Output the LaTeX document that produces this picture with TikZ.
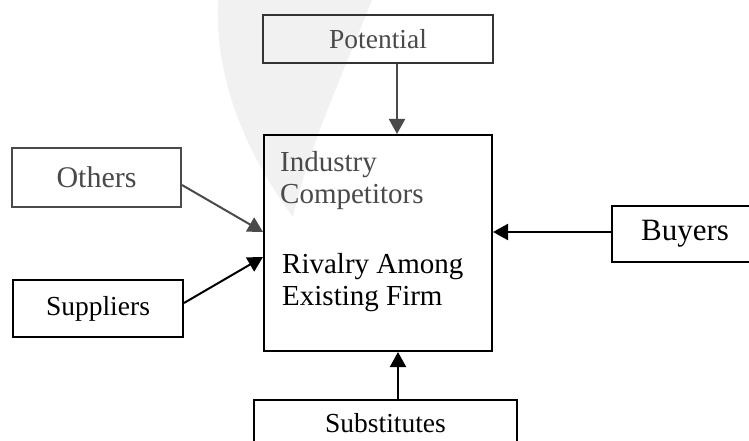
\documentclass[tikz,border=0pt]{standalone}
\usepackage{fontspec}
\setmainfont{Liberation Serif}
\usetikzlibrary{arrows.meta}
\definecolor{txtgray}{HTML}{4A4A4A}
\definecolor{wmark}{HTML}{F1F1F1}
\tikzset{
  box/.style={draw=black, line width=2pt, inner sep=0pt, anchor=center},
  graybox/.style={box, draw=txtgray, text=txtgray},
  arr/.style={line width=2pt, -{Triangle[length=15pt,width=16pt]}},
  grayarr/.style={arr, draw=txtgray, fill=txtgray},
  lbl/.style={inner sep=0pt, anchor=base west, font=\fontsize{29}{32}\selectfont}
}
\begin{document}
\begin{tikzpicture}[x=1pt,y=-1pt]
\useasboundingbox (0,0) rectangle (749,441);
\clip (0,0) rectangle (749,441);
\fill[white] (0,0) rectangle (749,441);
% faint watermark
\fill[wmark] (218,0) .. controls (214,90) and (255,165) .. (293,217)
  .. controls (308,150) and (340,80) .. (372,0) -- cycle;
% boxes
\node[box, graybox, draw=black!80, minimum width=230pt, minimum height=48pt,
  font=\fontsize{27.5}{30}\selectfont] (pot) at (378,39) {Potential};
\node[box, minimum width=228pt, minimum height=216pt] (main) at (378,243) {};
\node[box, graybox, minimum width=169pt, minimum height=59pt,
  font=\fontsize{30}{32}\selectfont] (oth) at (96.5,177.5) {Others};
\node[box, minimum width=170pt, minimum height=57pt,
  font=\fontsize{27.5}{30}\selectfont] (sup) at (98,308.5) {Suppliers};
\node[box, minimum width=146pt, minimum height=56pt,
  font=\fontsize{31}{33}\selectfont] (buy) at (685,234) {Buyers};
\node[box, minimum width=263pt, minimum height=46pt,
  font=\fontsize{27.5}{30}\selectfont] (subs) at (385.5,423) {Substitutes};
% text inside main box
\node[lbl, text=txtgray] (t1) at (280,171) {Industry};
\node[lbl, text=txtgray] (t2) at (280,203) {Competitors};
\node[lbl] (t3) at (282,273) {Rivalry Among};
\node[lbl] (t4) at (282,305) {Existing Firm};
% connectors
\draw[grayarr] ([xshift=19pt]pot.south) -- ([xshift=19pt]main.north);
\draw[grayarr] ([yshift=-7.5pt]oth.east) -- ([yshift=11pt]main.west);
\draw[arr] ([yshift=5.5pt]sup.east) -- ([yshift=-14pt]main.west);
\draw[arr] ([yshift=2pt]buy.west) -- ([yshift=11pt]main.east);
\draw[arr] ([xshift=12.5pt]subs.north) -- ([xshift=20pt]main.south);
\end{tikzpicture}
\end{document}
